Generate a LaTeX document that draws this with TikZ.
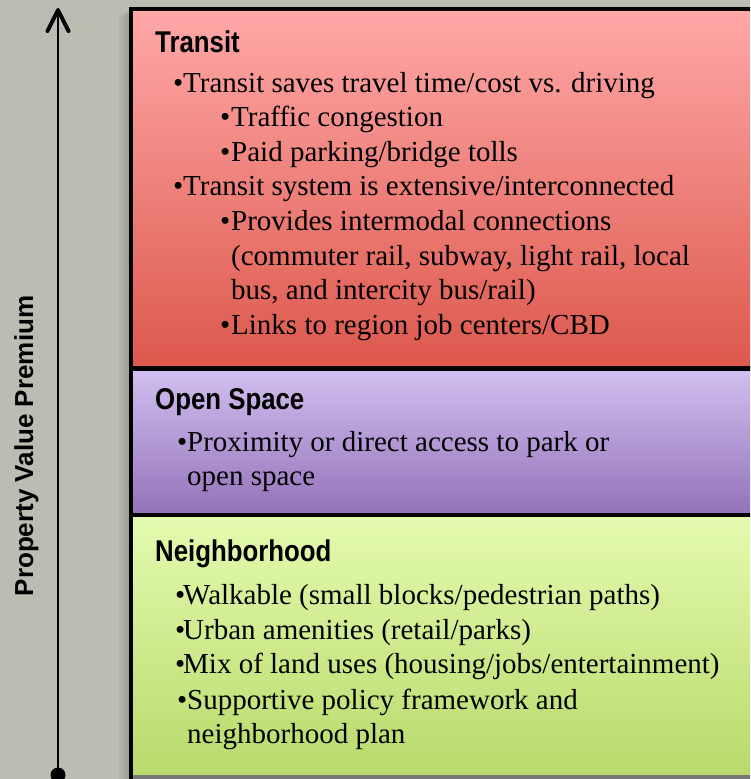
\documentclass[tikz,border=0pt]{standalone}
\usepackage{fontspec}
\setmainfont{Liberation Serif}
\newfontfamily\titlefont{Liberation Sans}[FakeStretch=0.86]
\newfontfamily\labelfont{Liberation Sans}
\definecolor{bg}{RGB}{188,189,178}
\definecolor{tTop}{RGB}{255,168,168}
\definecolor{tBot}{RGB}{220,88,76}
\definecolor{oTop}{RGB}{210,191,240}
\definecolor{oBot}{RGB}{147,114,185}
\definecolor{nTop}{RGB}{228,251,176}
\definecolor{nBot}{RGB}{184,217,106}
\definecolor{edgegray}{RGB}{120,120,118}
\begin{document}
\begin{tikzpicture}[x=1pt,y=-1pt,
  boxtitle/.style={anchor=base west, inner sep=0pt, font=\titlefont\bfseries\fontsize{30}{36}\selectfont},
  item/.style={anchor=base west, inner sep=0pt, font=\fontsize{29}{35}\selectfont},
  border/.style={line width=4.5pt, line join=miter}]
\useasboundingbox (0,0) rectangle (750,779);
\begin{scope}
\clip (0,0) rectangle (750,779);
\fill[bg] (0,0) rectangle (750,779);
% soft shadow
\fill[black, opacity=0.05] (119,15) rectangle (131,779);
\fill[black, opacity=0.05] (123,13) rectangle (131,779);
\fill[black, opacity=0.05] (126,11) rectangle (131,779);
% boxes
\shade[top color=tTop, bottom color=tBot] (131,9) rectangle (760,368.5);
\shade[top color=oTop, bottom color=oBot] (131,368.5) rectangle (760,515);
\shade[top color=nTop, bottom color=nBot] (131,515) rectangle (760,777);
\draw[edgegray, line width=4pt] (131,777) -- (760,777);
\draw[border] (760,9) -- (131,9) -- (131,779);
\draw[border] (131,368.5) -- (760,368.5);
\draw[border] (131,515) -- (760,515);
% axis arrow
\coordinate (axisbot) at (58,775);
\coordinate (axistop) at (58,10);
\draw[line width=2.8pt] (axisbot) -- ([yshift=-2pt]axistop);
\draw[line width=4pt, line cap=round, line join=round] (axistop) ++(-10.5,21) -- (axistop) -- ++(10.5,21);
\fill (axisbot) circle[radius=7.5];
\node[rotate=90, anchor=base, inner sep=0pt, font=\labelfont\bfseries\fontsize{26}{30}\selectfont] (axislabel) at (33,446) {Property Value Premium};
% Transit
\node[boxtitle] (transit) at (155,52) {Transit};
\node[item] (t1) at (173,92) {\makebox[10pt][l]{•}Transit saves travel time/cost vs. driving};
\node[item] (t2) at (220,126.6) {\makebox[11pt][l]{•}Traffic congestion};
\node[item] (t3) at (220,161.2) {\makebox[11pt][l]{•}Paid parking/bridge tolls};
\node[item] (t4) at (173,195.8) {\makebox[10pt][l]{•}Transit system is extensive/interconnected};
\node[item] (t5) at (220,230.4) {\makebox[11pt][l]{•}Provides intermodal connections};
\node[item] (t6) at (231,265) {(commuter rail, subway, light rail, local};
\node[item] (t7) at (231,299.6) {bus, and intercity bus/rail)};
\node[item] (t8) at (220,334.2) {\makebox[11pt][l]{•}Links to region job centers/CBD};
% Open Space
\node[boxtitle] (open) at (155,409) {Open Space};
\node[item] (o1) at (177,451) {\makebox[10pt][l]{•}Proximity or direct access to park or};
\node[item] (o2) at (187,485) {open space};
% Neighborhood
\node[boxtitle] (neigh) at (155,561) {Neighborhood};
\node[item] (n1) at (175,604) {\makebox[8pt][l]{•}Walkable (small blocks/pedestrian paths)};
\node[item] (n2) at (175,639) {\makebox[8pt][l]{•}Urban amenities (retail/parks)};
\node[item] (n3) at (175,673) {\makebox[8pt][l]{•}Mix of land uses (housing/jobs/entertainment)};
\node[item] (n4) at (177,709) {\makebox[10pt][l]{•}Supportive policy framework and};
\node[item] (n5) at (187,743) {neighborhood plan};
\end{scope}
\end{tikzpicture}
\end{document}
